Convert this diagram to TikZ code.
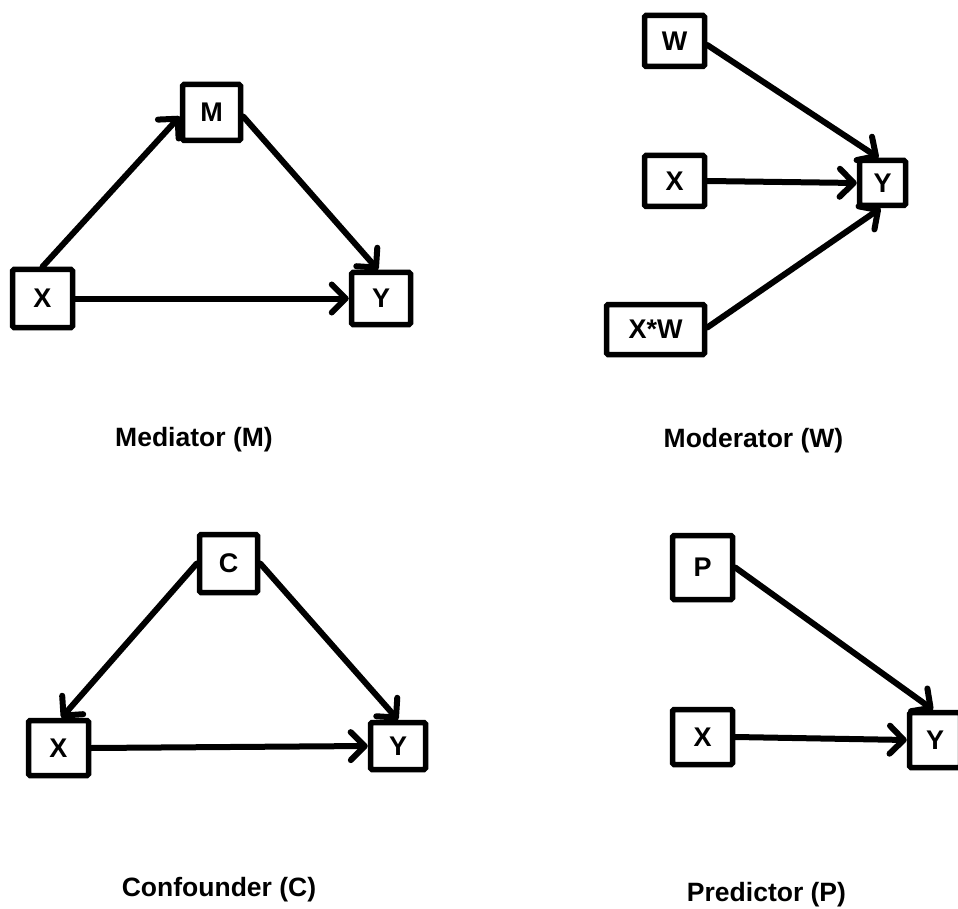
\documentclass[tikz,border=0pt]{standalone}
\usepackage{fontspec}
\setmainfont{Liberation Sans}
\usetikzlibrary{arrows.meta}
\begin{document}
\begin{tikzpicture}[x=1pt,y=-1pt,
  box/.style={draw, line width=5.5pt, rounded corners=1.5pt, inner sep=0pt, font=\fontsize{27}{30}\selectfont\bfseries},
  link/.style={line width=6pt, line cap=round, -{Straight Barb[length=14pt,width=28pt,round]}},
  caption/.style={anchor=base, inner sep=0pt, font=\fontsize{26.5}{30}\selectfont\bfseries}]
\useasboundingbox (0,0) rectangle (958,909);
% Mediator
\node[box, minimum width=58pt, minimum height=56pt] (M) at (211.5,112.5) {M};
\node[box, minimum width=60pt, minimum height=58pt] (X1) at (42.5,298.5) {X};
\node[box, minimum width=59pt, minimum height=52pt] (Y1) at (381,298.5) {Y};
\draw[link] (X1.north) -- ([yshift=-4pt]M.west);
\draw[link] (X1.east) -- (Y1.west);
\draw[link] ([yshift=-4pt]M.east) -- ([xshift=-3pt]Y1.north);
\node[caption] (capM) at (194,446.5) {Mediator (M)};
% Moderator
\node[box, minimum width=60pt, minimum height=51pt] (W) at (674.5,41) {W};
\node[box, minimum width=60pt, minimum height=51pt] (X2) at (674.5,181) {X};
\node[box, minimum width=98pt, minimum height=50pt] (XW) at (655.5,329.5) {X*W};
\node[box, minimum width=46pt, minimum height=45pt] (Y2) at (882.5,183) {Y};
\draw[link] ([yshift=-4pt]W.east) -- ([xshift=-4pt]Y2.north);
\draw[link] (X2.east) -- (Y2.west);
\draw[link] ([yshift=2pt]XW.east) -- ([xshift=-2pt]Y2.south);
\node[caption] (capW) at (753.5,447) {Moderator (W)};
% Confounder
\node[box, minimum width=58pt, minimum height=58pt] (C) at (228.5,563.5) {C};
\node[box, minimum width=60pt, minimum height=55pt] (X3) at (58.5,748) {X};
\node[box, minimum width=55pt, minimum height=47pt] (Y3) at (398,746) {Y};
\draw[link] (C.west) -- ([xshift=3pt]X3.north);
\draw[link] (C.east) -- (Y3.north);
\draw[link] (X3.east) -- (Y3.west);
\node[caption] (capC) at (219,896) {Confounder (C)};
% Predictor
\node[box, minimum width=60pt, minimum height=64pt] (P) at (702.5,567.5) {P};
\node[box, minimum width=60pt, minimum height=55pt] (X4) at (702.5,737) {X};
\node[box, minimum width=51pt, minimum height=55pt] (Y4) at (935,740) {Y};
\draw[link] (P.east) -- ([xshift=-2pt]Y4.north);
\draw[link] (X4.east) -- (Y4.west);
\node[caption] (capP) at (766.5,901.5) {Predictor (P)};
\end{tikzpicture}
\end{document}
